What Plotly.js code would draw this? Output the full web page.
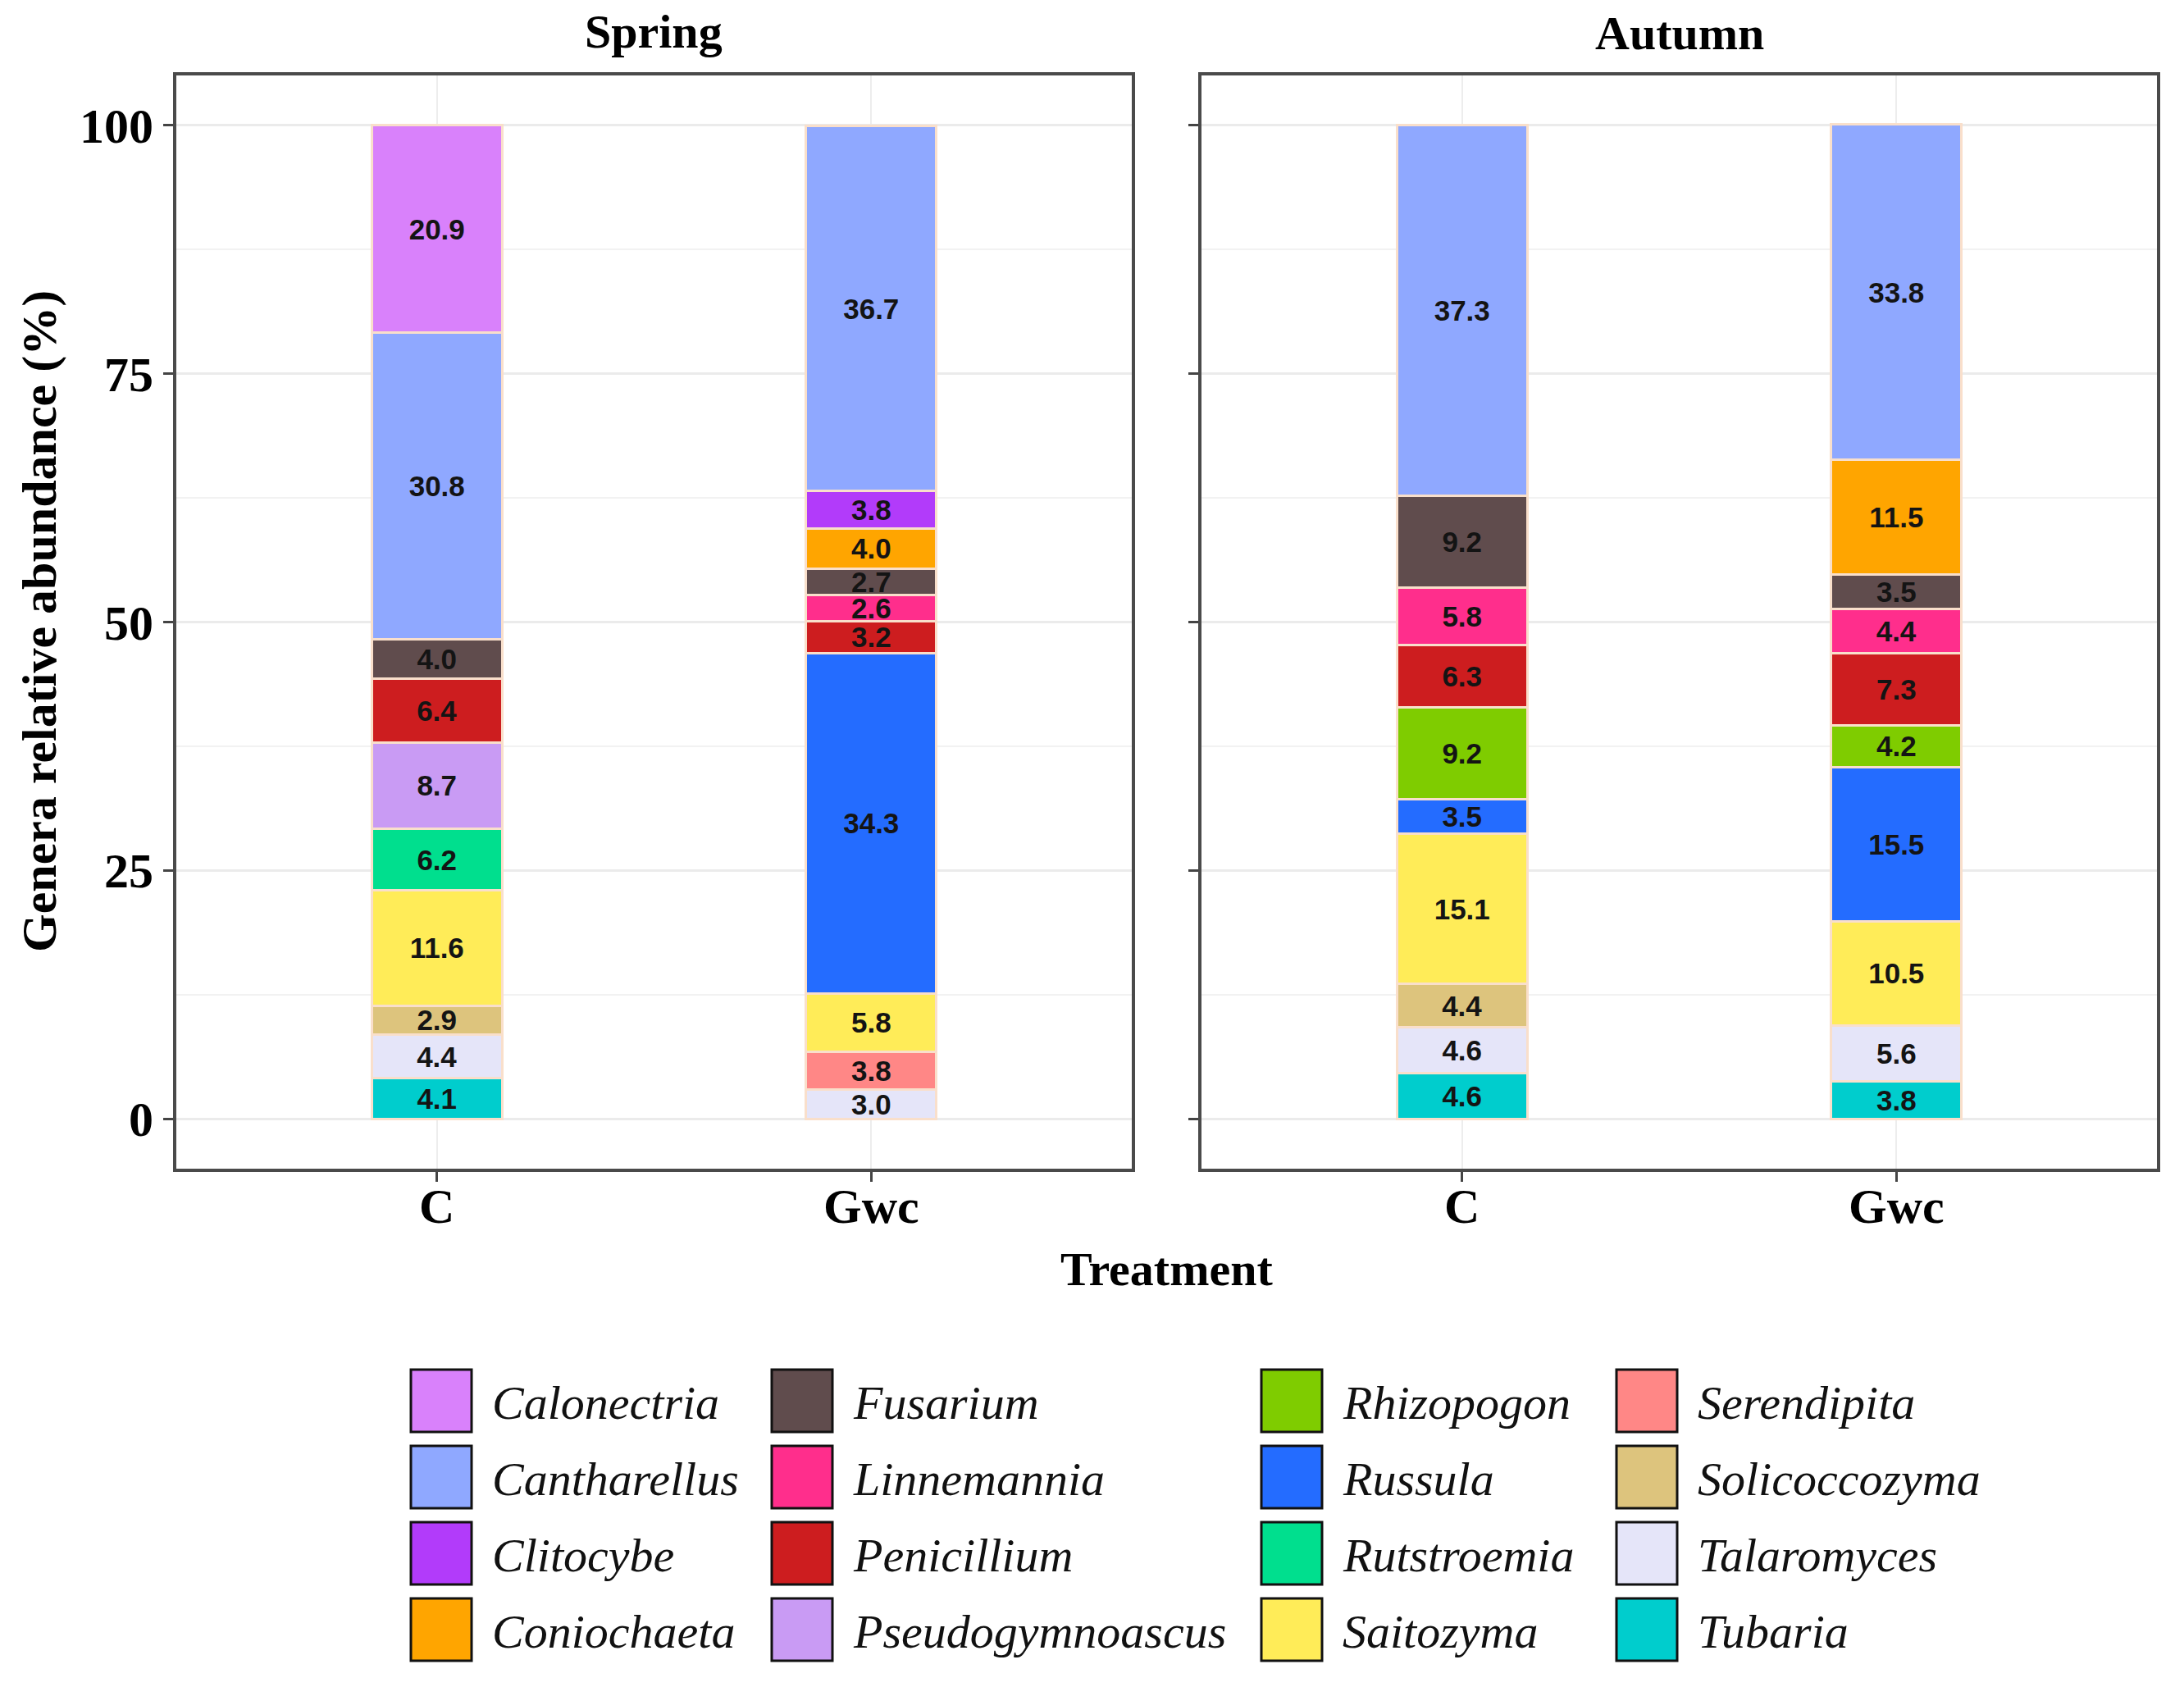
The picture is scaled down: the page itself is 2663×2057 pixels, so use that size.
<!DOCTYPE html>
<html>
<head>
<meta charset="utf-8">
<script src="https://cdn.plot.ly/plotly-3.0.1.min.js"></script>
<style>
  html, body { margin: 0; padding: 0; background: #fff; }
</style>
</head>
<body>
<div id="chart"></div>
<script>
// data (relative abundance, %)
const treatments = ['C', 'Gwc'];
const seasons = ['Spring', 'Autumn'];
const genera = [
  'Calonectria', 'Cantharellus', 'Clitocybe', 'Coniochaeta',
  'Fusarium', 'Linnemannia', 'Penicillium', 'Pseudogymnoascus',
  'Rhizopogon', 'Russula', 'Rutstroemia', 'Saitozyma',
  'Serendipita', 'Solicoccozyma', 'Talaromyces', 'Tubaria'
];
const genusColors = [
  '#D981FB', '#8FA8FF', '#B23BFA', '#FFA500',
  '#604C4D', '#FF2E8C', '#CD1D1F', '#C99BF4',
  '#7FCC00', '#246CFF', '#00DF8E', '#FFEC58',
  '#FF8786', '#DDC47D', '#E5E5F9', '#00CDCD'
];
// one value per genus, same order as genera; null = absent
const springC   = [20.9, 30.8, null, null, 4.0, null, 6.4, 8.7, null, null, 6.2, 11.6, null, 2.9, 4.4, 4.1];
const springGwc = [null, 36.7, 3.8, 4.0, 2.7, 2.6, 3.2, null, null, 34.3, null, 5.8, 3.8, null, 3.0, null];
const autumnC   = [null, 37.3, null, null, 9.2, 5.8, 6.3, null, 9.2, 3.5, null, 15.1, null, 4.4, 4.6, 4.6];
const autumnGwc = [null, 33.8, null, 11.5, 3.5, 4.4, 7.3, null, 4.2, 15.5, null, 10.5, null, null, 5.6, 3.8];
const yTicks = [0, 25, 50, 75, 100];

const W = 2663, H = 2057;
const px = x => x / W;
const py = y => 1 - y / H;

const serif = 'Liberation Serif, Times New Roman, serif';
const sans = 'Liberation Sans Narrow, Liberation Sans, Arial, sans-serif';

// stacking: last genus (Tubaria) at the bottom
const traces = [];
const panels = [
  { xa: 'x', ya: 'y', c: springC, g: springGwc },
  { xa: 'x2', ya: 'y2', c: autumnC, g: autumnGwc }
];
panels.forEach(p => {
  for (let i = genera.length - 1; i >= 0; i--) {
    traces.push({
      type: 'bar',
      name: genera[i],
      x: treatments,
      y: [p.c[i], p.g[i]],
      xaxis: p.xa,
      yaxis: p.ya,
      width: 0.3,
      marker: { color: genusColors[i], line: { color: '#F9DFCB', width: 3 } },
      texttemplate: '%{y:.1f}',
      textposition: 'inside',
      insidetextanchor: 'middle',
      textangle: 0,
      textfont: { family: sans, size: 35, weight: 'bold', color: '#141414' },
      showlegend: false,
      hoverinfo: 'skip'
    });
  }
});

function xAxis(domain, anchor) {
  return {
    domain: domain, anchor: anchor,
    type: 'category', categoryarray: treatments,
    range: [-0.6, 1.6],
    showline: true, mirror: true, linecolor: '#4a4a4a', linewidth: 4,
    showgrid: true, gridcolor: '#EDEDED', gridwidth: 2,
    ticks: 'outside', ticklen: 12, tickwidth: 3, tickcolor: '#444',
    ticklabelstandoff: -22,
    tickfont: { family: serif, size: 60, weight: 'bold', color: '#000' },
    zeroline: false, fixedrange: true
  };
}
function yAxis(anchor, labels) {
  return {
    domain: [py(1425), py(92)], anchor: anchor,
    range: [-5, 105],
    tickvals: yTicks, showticklabels: labels,
    showline: true, mirror: true, linecolor: '#4a4a4a', linewidth: 4,
    showgrid: true, gridcolor: '#EBEBEB', gridwidth: 3,
    minor: { dtick: 12.5, tick0: 0, showgrid: true, gridcolor: '#F2F2F2', gridwidth: 2 },
    ticks: 'outside', ticklen: 12, tickwidth: 3, tickcolor: '#444',
    tickfont: { family: serif, size: 60, weight: 'bold', color: '#000' },
    zeroline: false, fixedrange: true
  };
}

const annotations = [
  { text: seasons[0], x: px(797), y: py(38) },
  { text: seasons[1], x: px(2048), y: py(40) },
  { text: 'Treatment', x: px(1422), y: py(1547) },
  { text: 'Genera relative abundance (%)', x: px(48), y: py(758), textangle: -90, size: 60 }
].map(a => Object.assign({
  xref: 'paper', yref: 'paper', showarrow: false,
  xanchor: 'center', yanchor: 'middle',
  font: { family: serif, size: a.size || 58, weight: 'bold', color: '#000' }
}, a));
annotations.forEach(a => { delete a.size; });

// legend: 4 columns x 4 rows, filled column by column
const legendColX = [501, 941, 1538, 1971];
const shapes = [];
genera.forEach((g, i) => {
  const col = Math.floor(i / 4), row = i % 4;
  const cy = 1708 + row * 93;
  const x0 = legendColX[col];
  shapes.push({
    type: 'rect', xref: 'paper', yref: 'paper',
    x0: px(x0), x1: px(x0 + 74), y0: py(cy + 38), y1: py(cy - 38),
    fillcolor: genusColors[i], line: { color: '#111', width: 3 }
  });
  annotations.push({
    xref: 'paper', yref: 'paper', showarrow: false,
    x: px(x0 + 97), y: py(cy + 2), xanchor: 'left', yanchor: 'middle',
    text: g,
    font: { family: serif, size: 58, style: 'italic', color: '#111' }
  });
});

const layout = {
  width: W, height: H,
  margin: { l: 0, r: 0, t: 0, b: 0 },
  paper_bgcolor: '#fff', plot_bgcolor: '#fff',
  barmode: 'stack',
  uniformtext: { mode: 'show', minsize: 35 },
  xaxis: xAxis([px(215), px(1380)], 'y'),
  yaxis: yAxis('x', true),
  xaxis2: xAxis([px(1465), px(2630)], 'y2'),
  yaxis2: yAxis('x2', false),
  shapes: shapes,
  annotations: annotations,
  showlegend: false
};

Plotly.newPlot('chart', traces, layout, { staticPlot: true, displayModeBar: false });
</script>
</body>
</html>
